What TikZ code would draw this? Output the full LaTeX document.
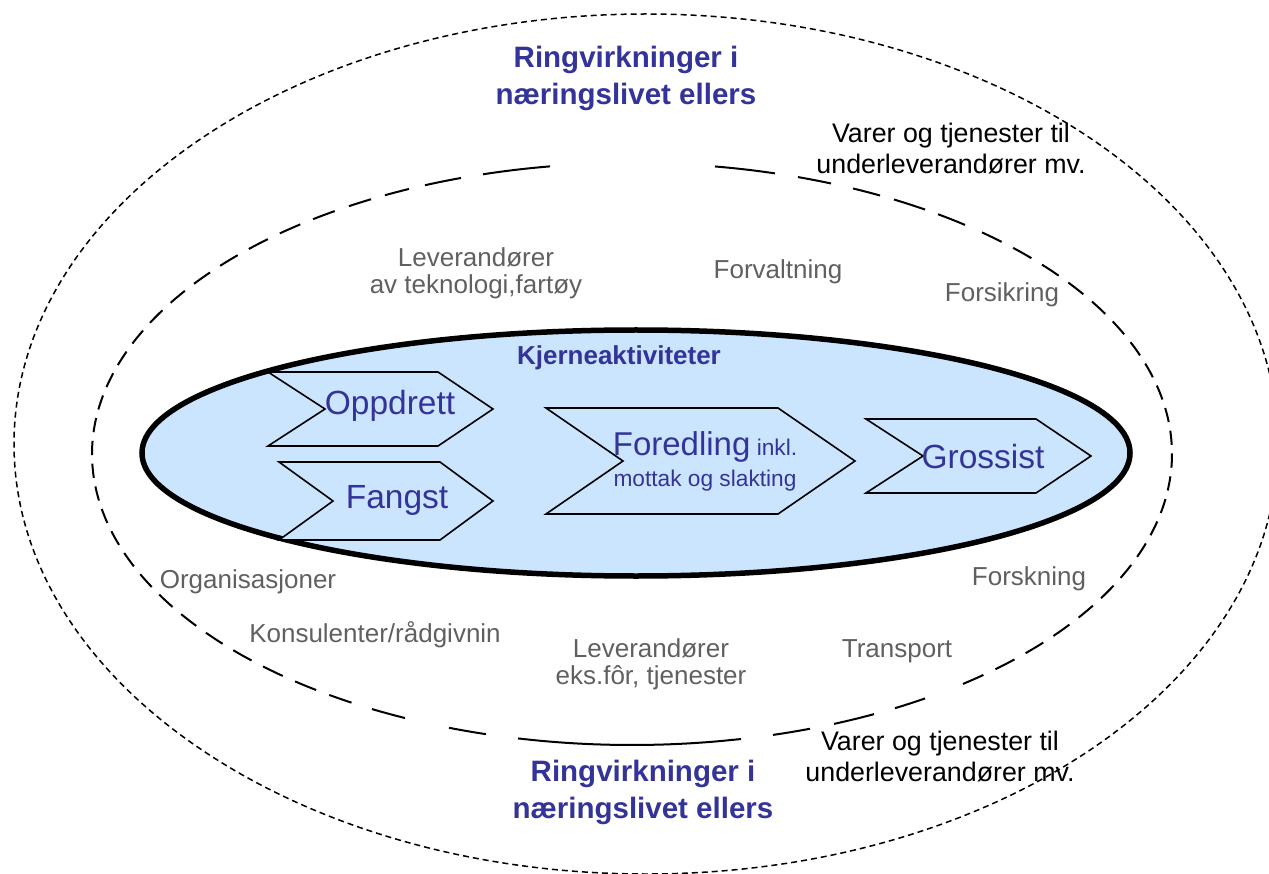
\documentclass[tikz,border=0pt]{standalone}
\usepackage{fontspec}
\setmainfont{Liberation Sans}
\definecolor{corefill}{RGB}{204,229,255}
\definecolor{titleblue}{RGB}{51,51,153}
\definecolor{labelgray}{RGB}{96,96,96}
\tikzset{
  outerring/.style={line width=1.5pt, dash pattern=on 6pt off 4pt},
  innerdash/.style={line width=2pt},
  coreshape/.style={line width=5.5pt, fill=corefill},
  chevron/.style={line width=1.6pt, fill=corefill, line join=miter},
  titletext/.style={text=titleblue, font=\bfseries\fontsize{29.5}{37}\selectfont, align=center, inner sep=0pt},
  coretitle/.style={text=titleblue, font=\bfseries\fontsize{26}{30}\selectfont, inner sep=0pt, anchor=base},
  chevtext/.style={text=titleblue, font=\fontsize{33.5}{33.5}\selectfont, inner sep=0pt, anchor=base},
  sidetext/.style={text=labelgray, font=\fontsize{26}{27}\selectfont, align=center, inner sep=0pt},
  sidebase/.style={sidetext, anchor=base},
  blacktext/.style={text=black, font=\fontsize{26.8}{31}\selectfont, align=center, inner sep=0pt},
}
\begin{document}
\begin{tikzpicture}[x=1pt,y=-1pt]
\useasboundingbox (0,0) rectangle (1269,874);
% outer ring
\draw[outerring] (646,444) ellipse [x radius=632, y radius=430];
% inner ring (centre 632,454; radii 540 x 291)
% left and right flanks: regular dashes
\foreach \k in {0,...,25}{
  \pgfmathsetmacro{\s}{121.3+\k*4.5}
  \pgfmathsetmacro{\e}{\s+2.8}
  \draw[innerdash] plot[domain=\s:\e, samples=5, smooth] ({632+540*cos(\x)},{454+291*sin(\x)});
}
\foreach \k in {0,...,22}{
  \pgfmathsetmacro{\s}{310.4+\k*4.5}
  \pgfmathsetmacro{\e}{\s+2.8}
  \draw[innerdash] plot[domain=\s:\e, samples=5, smooth] ({632+540*cos(\x)},{454+291*sin(\x)});
}
% top: longer dashes
\foreach \a/\b in {349/371,385/409,425/461,483/550,715/775,798/831,853/880,894/925,938/965}{
  \draw[innerdash] plot[domain=\a:\b, samples=8, smooth] ({\x},{454-291*sqrt(1-((\x-632)/540)^2)});
}
% bottom: longer dashes and a solid stretch
\foreach \a/\b in {372/405,449/486,518/741,773/810,834/874,895/925}{
  \draw[innerdash] plot[domain=\a:\b, samples=10, smooth] ({\x},{454+291*sqrt(1-((\x-632)/540)^2)});
}
% core activities
\draw[coreshape] (636,453) ellipse [x radius=494, y radius=123];
\draw[chevron] (268,372) -- (438,372) -- (493,409) -- (438,446) -- (268,446) -- (325,409) -- cycle;
\draw[chevron] (279,462) -- (440,462) -- (493,501) -- (440,540) -- (279,540) -- (333,501) -- cycle;
\draw[chevron] (546,408) -- (778,408) -- (855,461) -- (778,514) -- (546,514) -- (623,461) -- cycle;
\draw[chevron] (866,419) -- (1036,419) -- (1091,456) -- (1036,493) -- (866,493) -- (923,456) -- cycle;
\node[coretitle] (kjerne) at (619,365) {Kjerneaktiviteter};
\node[chevtext] (oppdrett) at (390,414) {Oppdrett};
\node[chevtext] (fangst) at (397,508) {Fangst};
\node[chevtext] (grossist) at (983,468) {Grossist};
\node[text=titleblue, align=center, inner sep=0pt, font=\fontsize{22.7}{31}\selectfont] (foredling) at (705,461)
  {{\fontsize{33}{33}\selectfont Foredling} inkl.\\mottak og slakting};
% titles
\node[titletext] (ringtop) at (626,78) {Ringvirkninger i\\næringslivet ellers};
\node[titletext] (ringbot) at (643,792) {Ringvirkninger i\\næringslivet ellers};
\node[blacktext] (varertop) at (951,149) {Varer og tjenester til\\underleverandører mv.};
\node[blacktext] (varerbot) at (940,757) {Varer og tjenester til\\underleverandører mv.};
% supporting actors
\node[sidetext] (levtek) at (476,273) {Leverandører\\av teknologi,fartøy};
\node[sidebase] (forvaltning) at (778,279) {Forvaltning};
\node[sidebase] (forsikring) at (1002,302) {Forsikring};
\node[sidebase] (organisasjoner) at (248,588) {Organisasjoner};
\node[sidebase] (konsulenter) at (375,642) {Konsulenter/rådgivnin};
\node[sidetext] (levfor) at (651,664) {Leverandører\\eks.fôr, tjenester};
\node[sidebase] (transport) at (897,657) {Transport};
\node[sidebase] (forskning) at (1029,585) {Forskning};
\end{tikzpicture}
\end{document}
